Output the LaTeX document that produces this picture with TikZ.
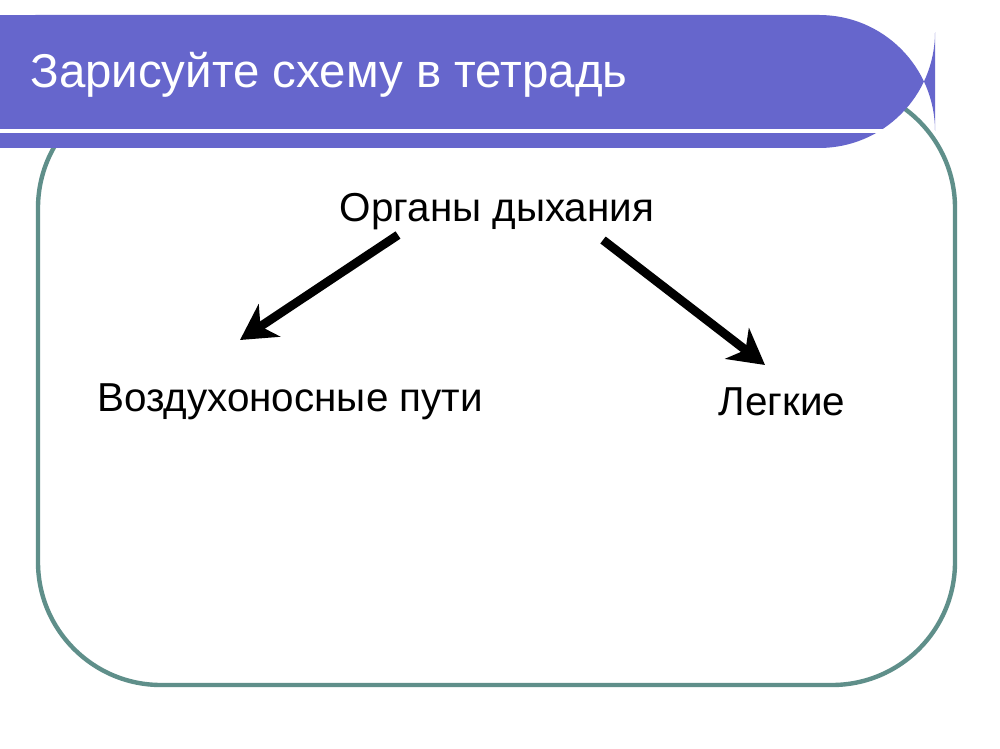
\documentclass[tikz,border=0pt]{standalone}
\usepackage{fontspec}
\setmainfont{Liberation Sans}
\usetikzlibrary{arrows.meta}
\definecolor{barblue}{RGB}{102,102,204}
\definecolor{framegreen}{RGB}{95,143,138}
\tikzset{
  label/.style={font=\fontsize{23}{27}\selectfont, inner sep=0pt},
  link/.style={line width=5pt, -{Stealth[length=20pt, width=22pt, inset=6pt]}}
}
\begin{document}
\begin{tikzpicture}[x=0.02cm, y=-0.02cm]
        % Page
        \useasboundingbox (0,0) rectangle (1000,749);
        \fill[white] (0,0) rectangle (1000,749);

        % Frame
        \draw[framegreen, line width=2.5pt, rounded corners=70] (38,85) rectangle (955,685);

        % Title bar
        \fill[barblue, rounded corners=66] (-80,15) rectangle (935,148);
        \fill[barblue] (0,15) rectangle (100,148);
        \draw[white, line width=2pt] (0,131) -- (885,131);
        \node[anchor=west, text=white, font=\fontsize{27}{32}\selectfont, inner sep=0pt] (title) at (30,75) {Зарисуйте схему в тетрадь};

        % Scheme
        \node[label] (organs) at (497,212) {Органы дыхания};
        \node[label] (airways) at (290,402) {Воздухоносные пути};
        \node[label] (lungs) at (782,402) {Легкие};
        \coordinate (lstart) at (398,235);
        \coordinate (rstart) at (603,240);
        \coordinate (lend) at (240,340);
        \coordinate (rend) at (765,365);
        \draw[link] (lstart) -- (lend);
        \draw[link] (rstart) -- (rend);
    \end{tikzpicture}
\end{document}
